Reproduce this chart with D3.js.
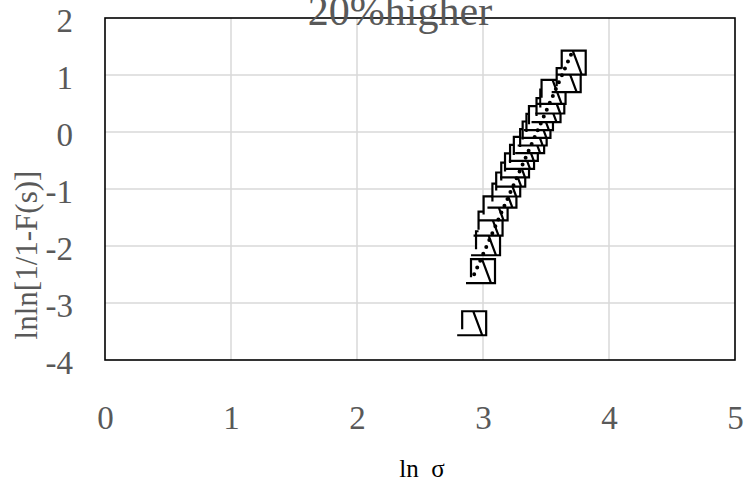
<!DOCTYPE html>
<html><head><meta charset="utf-8">
<script src="https://cdn.jsdelivr.net/npm/d3@7"></script>
<style>body{margin:0;background:#fff}svg{display:block}</style>
</head><body>
<svg id="chart" width="749" height="494"></svg>
<script>
const chartTitle = "20%higher";
const xTitle = "ln\u00a0\u00a0σ";
const yTitle = "lnln[1/1-F(s)]";
const xTickValues = [0, 1, 2, 3, 4, 5];
const yTickValues = [-4, -3, -2, -1, 0, 1, 2];
const lnSigma = [2.93, 3.00, 3.04, 3.06, 3.10, 3.17, 3.20, 3.24, 3.27, 3.31,
                 3.34, 3.39, 3.41, 3.44, 3.46, 3.52, 3.55, 3.56, 3.68, 3.72];
const lnlnF = [-3.355, -2.442, -1.952, -1.609, -1.340, -1.116, -0.921, -0.747, -0.587, -0.438,
               -0.297, -0.160, -0.026, 0.107, 0.243, 0.384, 0.535, 0.704, 0.910, 1.216];

const svg = d3.select("#chart");
const L = 105, R = 735, T = 18, B = 360;
const x = d3.scaleLinear().domain([0, 5]).range([L, R]);
const y = d3.scaleLinear().domain([-4, 2]).range([B, T]);
const grey = "#595959";
const font = "'Liberation Serif','Times New Roman',serif";

// gridlines
svg.append("g").selectAll("line.h").data(yTickValues.slice(1, -1)).join("line")
  .attr("x1", L).attr("x2", R).attr("y1", d => y(d)).attr("y2", d => y(d))
  .attr("stroke", "#d9d9d9").attr("stroke-width", 1.5);
svg.append("g").selectAll("line.v").data(xTickValues.slice(1, -1)).join("line")
  .attr("y1", T).attr("y2", B).attr("x1", d => x(d)).attr("x2", d => x(d))
  .attr("stroke", "#d9d9d9").attr("stroke-width", 1.5);

// plot border
svg.append("rect").attr("x", L).attr("y", T).attr("width", R - L).attr("height", B - T)
  .attr("fill", "none").attr("stroke", "#000").attr("stroke-width", 1.6);

// axes (labels only)
const yAxis = d3.axisLeft(y).tickValues(yTickValues).tickSize(0).tickPadding(32).tickFormat(d => String(d));
const gy = svg.append("g").attr("transform", `translate(${L},0)`).call(yAxis);
gy.select(".domain").remove();
gy.selectAll("text").attr("font-family", font).attr("font-size", 33).attr("fill", grey).attr("dy", "0.4em");

const xAxis = d3.axisBottom(x).tickValues(xTickValues).tickSize(0).tickPadding(0).tickFormat(d => String(d));
const gx = svg.append("g").attr("transform", `translate(0,${B + 69})`).call(xAxis);
gx.select(".domain").remove();
gx.selectAll("text").attr("font-family", font).attr("font-size", 33).attr("fill", grey).attr("dy", "0");

// markers
const h = 12;
const markerPath = (cx, cy) => {
  const p = d3.path();
  p.moveTo(cx - h, cy + h * 0.5); p.lineTo(cx - h, cy - h); p.lineTo(cx + h, cy - h);
  p.lineTo(cx + h, cy + h); p.lineTo(cx - h - 5, cy + h);
  p.moveTo(cx - 1, cy - h); p.lineTo(cx + 8, cy + h);
  return p.toString();
};
const pts = lnSigma.map((v, i) => ({x: v, y: lnlnF[i]}));
const mg = svg.append("g");
pts.forEach(d => {
  const cx = x(d.x), cy = y(d.y);
  mg.append("rect").attr("x", cx - h).attr("y", cy - h).attr("width", 2 * h).attr("height", 2 * h).attr("fill", "#fff");
  mg.append("path").attr("d", markerPath(cx, cy)).attr("fill", "none").attr("stroke", "#000").attr("stroke-width", 2.2);
});

// linear trendline (least squares)
const mx = d3.mean(lnSigma), my = d3.mean(lnlnF);
const slope = d3.sum(pts, d => (d.x - mx) * (d.y - my)) / d3.sum(pts, d => (d.x - mx) ** 2);
const icpt = my - slope * mx;
const [x0, x1] = d3.extent(lnSigma);
svg.append("line")
  .attr("x1", x(x0)).attr("y1", y(icpt + slope * x0))
  .attr("x2", x(x1)).attr("y2", y(icpt + slope * x1))
  .attr("stroke", "#000").attr("stroke-width", 4).attr("stroke-linecap", "round")
  .attr("stroke-dasharray", "0 7.5");

// titles
svg.append("text").attr("x", 400).attr("y", 25).attr("text-anchor", "middle")
  .attr("font-family", font).attr("font-size", 42).attr("fill", grey).text(chartTitle);
svg.append("text").attr("x", 422).attr("y", 477).attr("text-anchor", "middle")
  .attr("font-family", font).attr("font-size", 25).attr("fill", "#000").text(xTitle);
svg.append("text").attr("transform", "translate(37,255) rotate(-90)").attr("text-anchor", "middle")
  .attr("font-family", font).attr("font-size", 31).attr("fill", grey).text(yTitle);
</script>
</body></html>
